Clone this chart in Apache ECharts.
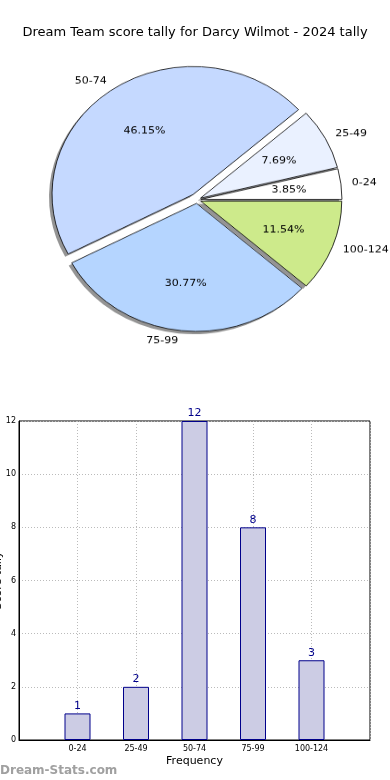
<!DOCTYPE html>
<html>
<head>
<meta charset="utf-8">
<script src="https://cdn.jsdelivr.net/npm/echarts@6/dist/echarts.min.js"></script>
<style>
  html, body { margin: 0; padding: 0; background: #fff; }
  #main { position: absolute; left: 0; top: 0; width: 390px; height: 780px; }
  #pie { position: absolute; left: 0; top: 0; width: 390px; height: 400px; transform: scaleY(0.908); transform-origin: 0 0; }
</style>
</head>
<body>
<div id="main"></div>
<div id="pie"></div>
<script>
const titleText = 'Dream Team score tally for Darcy Wilmot - 2024 tally';
const categories = ['0-24', '25-49', '50-74', '75-99', '100-124'];
const tallies = [1, 2, 12, 8, 3];
const yTicks = [0, 2, 4, 6, 8, 10, 12];
const sliceColors = ['#ffffff', '#eaf1ff', '#c5d9ff', '#b5d5ff', '#cdea8b'];
const bigSlice = '50-74';

const FONT = 'DejaVu Sans';

// ---------- bar chart + title ----------
const main = echarts.init(document.getElementById('main'), null, { renderer: 'canvas' });
const xCats = [''].concat(categories, ['']);
const barData = [null].concat(tallies, [null]);
main.setOption({
  animation: false,
  backgroundColor: '#fff',
  title: {
    text: titleText, left: 'center', top: 21,
    textStyle: { fontFamily: FONT, fontSize: 13, fontWeight: 'normal', color: '#000' }
  },
  graphic: [{
    type: 'text', left: 0, top: 765,
    style: { text: 'Dream-Stats.com', fill: '#a0a0a0', font: 'bold 12px "' + FONT + '"' }
  }],
  grid: { left: 19, right: 20, top: 421, bottom: 40, containLabel: false, outerBoundsMode: 'none',
    show: true, borderColor: '#000', borderWidth: 1 },
  xAxis: {
    type: 'category', data: xCats, boundaryGap: false,
    name: 'Frequency', nameLocation: 'middle', nameGap: 16, nameMoveOverlap: false,
    nameTextStyle: { fontFamily: FONT, fontSize: 11, color: '#000' },
    axisLine: { lineStyle: { color: '#000' } },
    axisTick: { show: false },
    axisLabel: { fontFamily: FONT, fontSize: 8, color: '#000', margin: 5, interval: 0 },
    splitLine: { show: true, interval: 0, lineStyle: { color: '#bbb', type: [1, 2] } }
  },
  yAxis: {
    type: 'value', min: yTicks[0], max: yTicks[yTicks.length - 1], interval: yTicks[1] - yTicks[0],
    name: 'Score tally', nameLocation: 'middle', nameGap: 15, nameRotate: 90, nameMoveOverlap: false,
    nameTextStyle: { fontFamily: FONT, fontSize: 11, color: '#000' },
    axisLine: { show: true, lineStyle: { color: '#000' } },
    axisTick: { show: false },
    axisLabel: { fontFamily: FONT, fontSize: 8, color: '#000', margin: 3 },
    splitLine: { show: true, lineStyle: { color: '#bbb', type: [1, 2] } }
  },
  series: [{
    type: 'bar', data: barData, barWidth: 26,
    itemStyle: { color: '#ccccE4', borderColor: '#00008b', borderWidth: 1 },
    label: { show: true, position: 'top', distance: 2, color: '#00008b', fontFamily: FONT, fontSize: 11 },
    silent: true
  }]
});

// ---------- pie chart (drawn in a vertically squashed box -> elliptical pie) ----------
const pie = echarts.init(document.getElementById('pie'), null, { renderer: 'canvas' });
const CX = 197, CY = 220, R = 141;
const SHX = -3, SHY = 3;
const clear = 'rgba(0,0,0,0)';
function sliceItems(showFn, shadow) {
  return categories.map((c, i) => {
    const vis = showFn(c);
    let style;
    if (!vis) style = { color: clear, borderWidth: 0 };
    else if (shadow) style = { color: 'rgba(0,0,0,0.42)', borderWidth: 0 };
    else style = { color: sliceColors[i], borderColor: '#000', borderWidth: 0.8 };
    return { name: c, value: tallies[i], selected: true, itemStyle: style, label: { show: vis && !shadow } };
  });
}
const outerLabel = {
  show: true, position: 'outside', formatter: '{b}', fontFamily: FONT, fontSize: 11, color: '#000',
  distanceToLabelLine: 0
};
const outerLine = { show: false, length: 11, length2: 0 };
function pieSeries(showFn, offset, shadow, z) {
  return {
    type: 'pie', z: z, center: shadow ? [CX + SHX, CY + SHY] : [CX, CY], radius: [0, R],
    startAngle: 0, clockwise: false,
    selectedMode: 'multiple', selectedOffset: offset, avoidLabelOverlap: false, silent: true,
    label: outerLabel, labelLine: outerLine,
    data: sliceItems(showFn, shadow)
  };
}
const notBig = c => c !== bigSlice;
const isBig = c => c === bigSlice;
pie.setOption({
  animation: false,
  series: [
    pieSeries(notBig, 4, true, 1),
    pieSeries(isBig, 7, true, 1),
    pieSeries(notBig, 4, false, 2),
    pieSeries(isBig, 7, false, 2),
    {
      type: 'pie', z: 3, center: [CX, CY], radius: [0, R * 1.2], startAngle: 0, clockwise: false,
      selectedMode: 'multiple', selectedOffset: 5, avoidLabelOverlap: false, silent: true,
      percentPrecision: 2,
      label: { show: true, position: 'inside', formatter: '{d}%', fontFamily: FONT, fontSize: 11, color: '#000' },
      labelLine: { show: false },
      data: categories.map((c, i) => ({ name: c, value: tallies[i], selected: true,
        itemStyle: { color: clear, borderWidth: 0 } }))
    }
  ]
});
</script>
</body>
</html>
